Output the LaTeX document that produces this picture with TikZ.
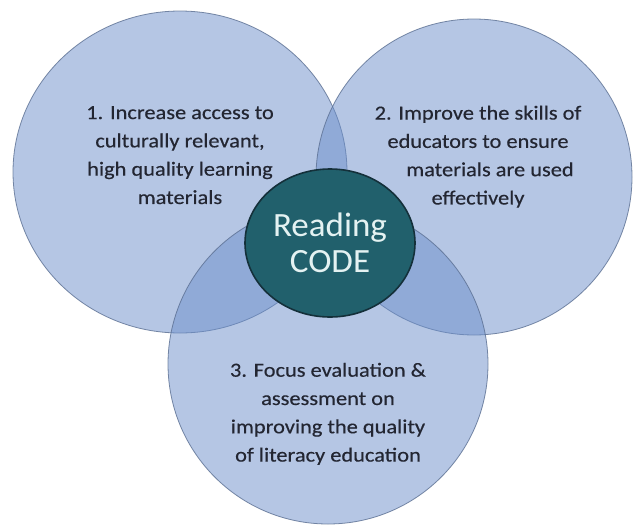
\documentclass[tikz,border=0pt]{standalone}
\usepackage{fontspec}
\setmainfont{Carlito}
\newfontfamily\bodyfont{Carlito}[FakeStretch=1.12, FakeBold=0.35]
\newfontfamily\corefont{Carlito}[FakeStretch=1.03]
\usetikzlibrary{shapes.geometric}
\definecolor{bubblefill}{RGB}{108,143,203}
\definecolor{bubbleline}{RGB}{90,110,145}
\definecolor{corefill}{RGB}{33,96,108}
\definecolor{coreline}{RGB}{20,48,58}
\definecolor{coretext}{RGB}{228,242,242}
\definecolor{txt}{RGB}{35,38,50}
\begin{document}
\begin{tikzpicture}[x=1pt,y=-1pt,
  bubble/.style={ellipse, draw=bubbleline, line width=0.8pt, fill=bubblefill,
    fill opacity=0.5, draw opacity=0.8, inner sep=0pt},
  core/.style={ellipse, draw=coreline, line width=1.6pt, fill=corefill,
    text=coretext, font=\corefont\fontsize{34}{36}\selectfont, align=center, inner sep=0pt},
  bodytext/.style={text=txt, font=\bodyfont\fontsize{20}{28.3}\selectfont,
    align=center, inner sep=0pt, anchor=north}]
\useasboundingbox (0,0) rectangle (634,525);
\fill[white] (0,0) rectangle (634,525);
\node[bubble, minimum width=334pt, minimum height=322pt] (c1) at (180,172) {};
\node[bubble, minimum width=316pt, minimum height=316pt] (c2) at (474,177) {};
\node[bubble, minimum width=320pt, minimum height=320pt] (c3) at (328,364) {};
\node[core, minimum width=170pt, minimum height=148pt] (rc) at (330,243) {Reading\\CODE};
\node[bodytext] (t1) at (180,106) {1. Increase access to\\culturally relevant,\\high quality learning\\materials};
\node[bodytext] (t2) at (478,105.5) {2. Improve the skills of\\educators to ensure\\\hspace*{24pt}materials are used\\effectively};
\node[bodytext] (t3) at (328,362.6) {3. Focus evaluation \&\\assessment on\\improving the quality\\of literacy education};
\end{tikzpicture}
\end{document}
